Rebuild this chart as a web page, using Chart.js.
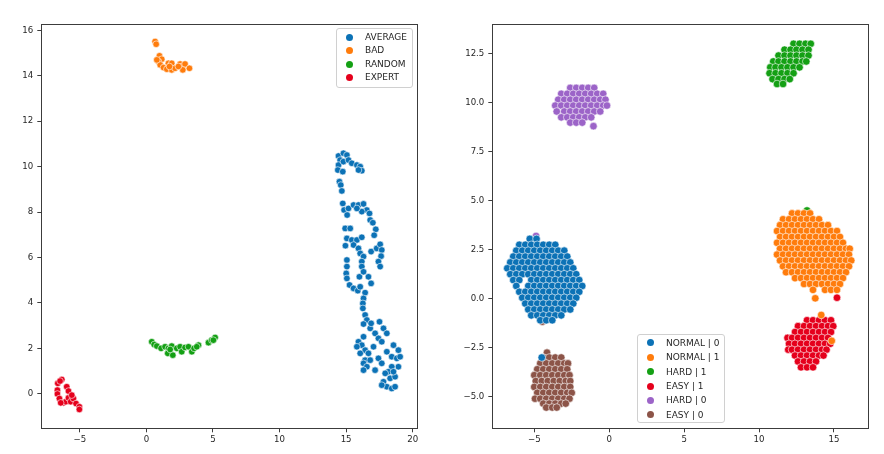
<!DOCTYPE html>
<html>
<head>
<meta charset="utf-8">
<script src="https://cdn.jsdelivr.net/npm/chart.js"></script>
<style>
  body { margin: 0; background: #fff; width: 884px; height: 454px; position: relative; overflow: hidden; font-family: "DejaVu Sans", sans-serif; }
  canvas { position: absolute; top: 0; }
  .legend { position: absolute; box-sizing: border-box; background: rgba(255,255,255,0.8); border: 1px solid #d0d0d0; border-radius: 3px; font-size: 9px; color: #262626; }
  .legend .item { position: absolute; left: 0; white-space: nowrap; }
  .legend .dot { position: absolute; width: 7px; height: 7px; border-radius: 50%; }
</style>
</head>
<body>
<canvas id="left" width="440" height="454" style="left:0"></canvas>
<canvas id="right" width="444" height="454" style="left:440px"></canvas>
<div id="legendLeft" class="legend" style="left:336px;top:28px;width:77px;height:60px"></div>
<div id="legendRight" class="legend" style="left:637px;top:334px;width:88px;height:89px"></div>
<script>
// ---- left plot: one point per [x, y]
const average = [
  [14.43,10.47],[14.8,10.59],[15.06,10.51],[14.55,10.29],[14.43,10.07],[14.8,10.22],[15.18,10.29],[15.43,10.15],
  [15.81,10.07],[16.06,10.0],[16.18,9.82],[15.93,9.85],[14.38,9.85],[14.75,9.78],[14.5,9.34],[14.6,9.19],[14.68,8.93],
  [14.75,8.38],[14.85,8.09],[15.18,8.16],[15.56,8.31],[15.93,8.31],[16.31,8.36],[16.56,8.09],[16.76,7.94],[16.18,8.02],
  [15.81,8.16],[15.08,7.87],[16.81,7.65],[17.01,7.53],[17.23,7.24],[17.11,6.98],[14.93,7.28],[15.31,7.28],[15.06,6.84],
  [15.43,6.77],[15.81,6.77],[16.18,6.89],[14.95,6.52],[15.56,6.55],[15.93,6.4],[16.06,6.18],[16.31,6.04],[16.88,6.26],
  [17.3,6.4],[17.56,6.58],[17.68,6.33],[17.63,6.06],[17.43,5.82],[17.56,5.6],[15.06,5.89],[15.06,5.6],[16.18,5.82],
  [16.18,5.6],[15.01,5.3],[15.06,5.08],[16.0,5.15],[16.31,5.37],[16.68,5.15],[16.88,4.86],[15.26,4.79],[15.56,4.64],
  [15.88,4.54],[16.06,4.71],[16.43,4.45],[16.31,4.2],[16.26,3.98],[16.26,3.76],[16.43,3.47],[16.56,3.25],[16.31,3.07],
  [16.81,2.88],[16.88,3.1],[17.51,3.17],[17.81,2.88],[18.06,2.66],[17.18,2.66],[17.43,2.44],[17.06,2.07],[17.68,2.29],
  [16.31,2.51],[15.93,2.29],[16.18,2.14],[15.81,2.07],[16.43,1.92],[16.68,1.78],[16.06,1.78],[16.43,1.48],[16.31,1.34],
  [16.56,1.19],[16.31,1.04],[16.81,1.48],[17.18,1.04],[17.43,1.56],[17.68,1.34],[18.06,1.85],[18.56,2.14],[18.93,1.92],
  [18.43,1.63],[18.81,1.56],[19.06,1.63],[18.93,1.19],[18.43,1.19],[18.18,0.97],[17.94,0.9],[18.31,0.68],[17.81,0.53],
  [18.06,0.31],[17.68,0.38],[18.43,0.23],[18.68,0.31],[18.68,0.75],[18.56,0.97]
];
const bad = [
  [0.65,15.51],[0.73,15.39],[0.98,14.88],[1.15,14.73],[0.9,14.63],[1.03,14.48],[1.28,14.36],[1.65,14.55],[1.9,14.55],
  [1.53,14.29],[1.9,14.26],[2.15,14.33],[2.53,14.52],[2.73,14.43],[2.9,14.52],[2.73,14.26],[3.23,14.33],[2.4,14.41],
  [0.78,14.7],[1.73,14.41]
];
const random = [
  [0.4,2.29],[0.58,2.17],[0.78,2.1],[1.1,2.0],[1.4,2.07],[1.65,2.0],[1.9,2.1],[1.6,1.78],[1.98,1.7],[2.28,2.0],
  [2.53,2.07],[2.65,1.85],[2.9,2.04],[3.16,2.07],[3.41,1.85],[3.58,2.0],[3.91,2.14],[3.78,2.07],[4.66,2.25],[4.91,2.36],
  [5.16,2.48],[5.03,2.36],[1.78,1.95]
];
const expert = [
  [-6.36,0.63],[-6.66,0.46],[-6.49,0.56],[-6.69,0.16],[-6.69,-0.01],[-6.54,-0.21],[-6.24,-0.4],[-6.06,-0.35],[-5.99,0.31],
  [-5.86,0.12],[-5.86,-0.18],[-5.69,-0.35],[-5.49,-0.21],[-5.29,-0.43],[-5.04,-0.57],[-5.04,-0.69],[-5.61,-0.06],[-6.44,-0.4]
];

// ---- right plot: dense clusters, each row is [y, x1, x2, ...]
const normal0 = [
  [3.05,-5.3,-4.85],
  [2.75,-6.0,-5.6,-5.2,-4.8,-4.4,-4.0,-3.6],
  [2.45,-6.2,-5.8,-5.4,-5.0,-4.6,-4.2,-3.8,-3.4,-3.0],
  [2.15,-6.4,-6.0,-5.6,-5.2,-4.8,-4.4,-4.0,-3.6,-3.2,-2.8],
  [1.85,-6.6,-6.2,-5.8,-5.4,-5.0,-4.6,-4.2,-3.8,-3.4,-3.0,-2.6],
  [1.55,-6.8,-6.4,-6.0,-5.6,-5.2,-4.8,-4.4,-4.0,-3.6,-3.2,-2.8,-2.4],
  [1.25,-6.6,-6.2,-5.8,-5.4,-5.0,-4.6,-4.2,-3.8,-3.4,-3.0,-2.6,-2.2],
  [0.95,-6.4,-6.0,-5.2,-4.8,-4.4,-4.0,-3.6,-3.2,-2.8,-2.4,-2.0],
  [0.65,-6.2,-5.4,-5.0,-4.6,-4.2,-3.8,-3.4,-3.0,-2.6,-2.2,-1.8],
  [0.35,-6.0,-5.6,-5.2,-4.8,-4.4,-4.0,-3.6,-3.2,-2.8,-2.4,-2.0],
  [0.05,-5.8,-5.4,-5.0,-4.6,-4.2,-3.8,-3.4,-3.0,-2.6,-2.2],
  [-0.25,-5.6,-5.2,-4.8,-4.4,-4.0,-3.6,-3.2,-2.8,-2.4],
  [-0.55,-5.4,-5.0,-4.6,-4.2,-3.8,-3.4,-3.0,-2.6],
  [-0.85,-5.2,-4.8,-4.4,-4.0,-3.6,-3.2],
  [-1.1,-4.6,-4.2,-3.8],
  [-3.0,-4.5]
];
const normal1 = [
  [4.35,12.2,12.6,13.0,13.4],
  [4.05,11.6,12.0,12.4,12.8,13.2,13.6,14.0],
  [3.75,11.4,11.8,12.2,12.6,13.0,13.4,13.8,14.2,14.6],
  [3.45,11.2,11.6,12.0,12.4,12.8,13.2,13.6,14.0,14.4,14.8,15.2],
  [3.15,11.4,11.8,12.2,12.6,13.0,13.4,13.8,14.2,14.6,15.0,15.4],
  [2.85,11.2,11.6,12.0,12.4,12.8,13.2,13.6,14.0,14.4,14.8,15.2,15.6],
  [2.55,11.4,11.8,12.2,12.6,13.0,13.4,13.8,14.2,14.6,15.0,15.4,15.8,16.05],
  [2.25,11.2,11.6,12.0,12.4,12.8,13.2,13.6,14.0,14.4,14.8,15.2,15.6,16.0],
  [1.95,11.4,11.8,12.2,12.6,13.0,13.4,13.8,14.2,14.6,15.0,15.4,15.8,16.15],
  [1.65,11.6,12.0,12.4,12.8,13.2,13.6,14.0,14.4,14.8,15.2,15.6,16.0],
  [1.35,11.8,12.2,12.6,13.0,13.4,13.8,14.2,14.6,15.0,15.4,15.8],
  [1.05,12.4,12.8,13.2,13.6,14.0,14.4,14.8,15.2,15.6],
  [0.75,13.0,13.4,13.8,14.2,14.6,15.0,15.4],
  [0.45,13.6,14.4,14.8,15.2],
  [0.02,13.75],
  [-0.83,14.15],
  [-2.15,14.85]
];
const hard1 = [
  [13.0,12.3,12.7,13.1,13.45],
  [12.7,11.7,12.1,12.5,12.9,13.3],
  [12.4,11.3,11.7,12.1,12.5,12.9,13.3],
  [12.1,10.95,11.3,11.7,12.1,12.5,12.9,13.15],
  [11.8,10.75,11.1,11.5,11.9,12.3,12.7],
  [11.5,10.7,11.1,11.5,11.9,12.3],
  [11.2,10.9,11.3,11.7,12.05],
  [10.95,11.2,11.6],
  [4.5,13.2]
];
const easy1 = [
  [-1.1,13.2,13.6,14.0,14.4,14.8],
  [-1.4,12.6,13.0,13.4,13.8,14.2,14.6,14.95],
  [-1.7,12.4,12.8,13.2,13.6,14.0,14.4,14.8],
  [-2.0,11.9,12.2,12.6,13.0,13.4,13.8,14.2,14.6],
  [-2.3,12.0,12.4,12.8,13.2,13.6,14.0,14.4,14.75],
  [-2.6,11.95,12.2,12.6,13.0,13.4,13.8,14.2,14.5],
  [-2.9,12.4,12.8,13.2,13.6,14.0,14.3],
  [-3.2,12.6,13.0,13.4,13.8],
  [-3.5,12.8,13.2,13.6],
  [0.05,15.2],
  [2.45,11.4]
];
const hard0 = [
  [10.75,-2.6,-2.2,-1.8,-1.4,-1.0],
  [10.45,-3.2,-2.8,-2.4,-2.0,-1.6,-1.2,-0.8,-0.4],
  [10.15,-3.4,-3.0,-2.6,-2.2,-1.8,-1.4,-1.0,-0.6,-0.25],
  [9.85,-3.6,-3.2,-2.8,-2.4,-2.0,-1.6,-1.2,-0.8,-0.4,-0.15],
  [9.55,-3.5,-3.0,-2.6,-2.2,-1.8,-1.4,-1.0,-0.6],
  [9.25,-3.2,-2.8,-2.4,-2.0,-1.6,-1.2],
  [8.98,-2.6,-2.2,-1.8],
  [8.8,-1.05],
  [3.2,-4.88]
];
const easy0 = [
  [-2.75,-4.15],
  [-3.0,-4.4,-4.0,-3.6,-3.2],
  [-3.3,-4.6,-4.2,-3.8,-3.4,-3.0,-2.75],
  [-3.6,-4.8,-4.4,-4.0,-3.6,-3.2,-2.8],
  [-3.9,-5.0,-4.6,-4.2,-3.8,-3.4,-3.0,-2.65],
  [-4.2,-4.9,-4.5,-4.1,-3.7,-3.3,-2.9,-2.6],
  [-4.5,-5.0,-4.6,-4.2,-3.8,-3.4,-3.0,-2.6],
  [-4.8,-4.8,-4.4,-4.0,-3.6,-3.2,-2.8,-2.5],
  [-5.1,-4.95,-4.6,-4.2,-3.8,-3.4,-3.0,-2.65],
  [-5.35,-4.4,-4.0,-3.6,-3.2,-2.9],
  [-5.55,-4.2,-3.8,-3.5],
  [-1.17,-4.46]
];

const leftLabels = ['AVERAGE', 'BAD', 'RANDOM', 'EXPERT'];
const rightLabels = ['NORMAL | 0', 'NORMAL | 1', 'HARD | 1', 'EASY | 1', 'HARD | 0', 'EASY | 0'];
const colors = ['#0c72b6', '#ff7c0c', '#14a014', '#e5001c', '#9c64c8', '#8c5448'];

const leftXTicks = [-5, 0, 5, 10, 15, 20];
const leftXTickLabels = ['\u22125', '0', '5', '10', '15', '20'];
const leftYTicks = [0, 2, 4, 6, 8, 10, 12, 14, 16];
const leftYTickLabels = ['0', '2', '4', '6', '8', '10', '12', '14', '16'];
const rightXTicks = [-5, 0, 5, 10, 15];
const rightXTickLabels = ['\u22125', '0', '5', '10', '15'];
const rightYTicks = [-5, -2.5, 0, 2.5, 5, 7.5, 10, 12.5];
const rightYTickLabels = ['\u22125.0', '\u22122.5', '0.0', '2.5', '5.0', '7.5', '10.0', '12.5'];

function pairs(list) { return list.map(p => ({ x: p[0], y: p[1] })); }
function rows(list) {
  const out = [];
  list.forEach(r => { for (let i = 1; i < r.length; i++) out.push({ x: r[i], y: r[0] }); });
  return out;
}

const frame = {
  id: 'frame',
  afterDraw(chart) {
    const a = chart.chartArea, ctx = chart.ctx;
    ctx.save();
    ctx.strokeStyle = '#3c3c3c';
    ctx.lineWidth = 1;
    ctx.strokeRect(Math.round(a.left) + 0.5, Math.round(a.top) + 0.5, Math.round(a.right - a.left), Math.round(a.bottom - a.top));
    ctx.restore();
  }
};

function axis(min, max, ticks, labels, size, isX) {
  return {
    type: 'linear', min: min, max: max,
    afterBuildTicks: s => { s.ticks = ticks.map(v => ({ value: v })); },
    afterFit: s => { if (isX) s.height = size; else s.width = size; },
    ticks: {
      callback: (v, i) => labels[i],
      font: { family: 'DejaVu Sans', size: 8.6 },
      color: '#262626',
      padding: isX ? 2 : 4,
      maxRotation: 0,
      autoSkip: false
    },
    grid: { drawOnChartArea: false, tickLength: 4, color: '#3c3c3c' },
    border: { display: false }
  };
}

function makeChart(id, datasets, xa, ya, padRight, radius) {
  return new Chart(document.getElementById(id), {
    type: 'scatter',
    data: { datasets: datasets },
    options: {
      responsive: false,
      animation: false,
      events: [],
      layout: { padding: { top: 24, right: padRight, left: 0, bottom: 0 } },
      plugins: { legend: { display: false }, tooltip: { enabled: false } },
      elements: { point: { radius: radius, borderWidth: 0.7, borderColor: 'rgba(255,255,255,0.85)' } },
      scales: { x: xa, y: ya }
    },
    plugins: [frame]
  });
}

const leftSets = [average, bad, random, expert].map((d, i) => ({
  label: leftLabels[i], data: pairs(d), backgroundColor: colors[i]
}));
const rightSets = [normal0, normal1, hard1, easy1, hard0, easy0].map((d, i) => ({
  label: rightLabels[i], data: rows(d), backgroundColor: colors[i]
}));

makeChart('left', leftSets,
  axis(-7.9, 20.35, leftXTicks, leftXTickLabels, 25.7, true),
  axis(-1.52, 16.28, leftYTicks, leftYTickLabels, 41.3, false), 22.7, 3.3);
makeChart('right', rightSets,
  axis(-7.8, 17.29, rightXTicks, rightXTickLabels, 25.7, true),
  axis(-6.61, 14.01, rightYTicks, rightYTickLabels, 52.3, false), 15.7, 3.8);

// html legends placed inside the axes, like the reference
function legend(id, sets, rowH, top) {
  const el = document.getElementById(id);
  sets.forEach((s, i) => {
    const item = document.createElement('div');
    item.className = 'item';
    item.style.top = (top + i * rowH) + 'px';
    item.style.height = rowH + 'px';
    item.style.lineHeight = rowH + 'px';
    item.style.paddingLeft = '28px';
    const dot = document.createElement('span');
    dot.className = 'dot';
    dot.style.background = s.backgroundColor;
    dot.style.left = '9px';
    dot.style.top = ((rowH - 7) / 2) + 'px';
    item.appendChild(dot);
    item.appendChild(document.createTextNode(s.label));
    el.appendChild(item);
  });
}
legend('legendLeft', leftSets, 13.5, 1.5);
legend('legendRight', rightSets, 14.4, 0.7);
</script>
</body>
</html>
